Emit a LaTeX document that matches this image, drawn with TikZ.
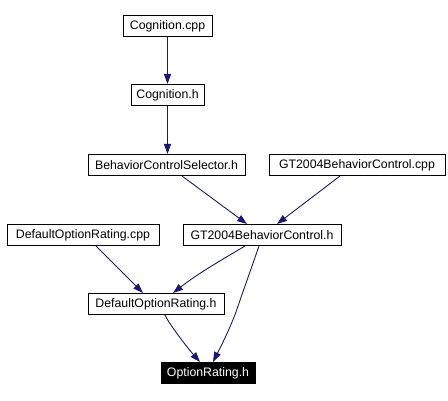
\documentclass[tikz,border=0pt]{standalone}
\usepackage{fontspec}
\setmainfont{Liberation Sans}
\usetikzlibrary{arrows.meta}
\definecolor{edgeblue}{HTML}{191970}
\tikzset{
  filebox/.style={draw=black, line width=1pt, fill=white, inner sep=0pt, minimum height=21pt, font=\fontsize{12.3}{14}\selectfont, anchor=center},
  hilite/.style={filebox, fill=black, text=white},
  dep/.style={draw=edgeblue, line width=0.9pt, -{Triangle[length=10pt,width=7pt]}, fill=none}
}
\begin{document}
\begin{tikzpicture}[x=1pt,y=-1pt]
\useasboundingbox (0,0) rectangle (448,401);
\node[filebox, minimum width=89pt] (cogcpp) at (167.5,26.5) {Cognition.cpp};
\node[filebox, minimum width=73pt] (cogh) at (167.5,95) {Cognition.h};
\node[filebox, minimum width=157pt] (bcs) at (166.5,165) {BehaviorControlSelector.h};
\node[filebox, minimum width=176pt] (gtcpp) at (357,165) {GT2004BehaviorControl.cpp};
\node[filebox, minimum width=152pt] (dorcpp) at (83,235) {DefaultOptionRating.cpp};
\node[filebox, minimum width=158pt] (gth) at (262,235) {GT2004BehaviorControl.h};
\node[filebox, minimum width=136pt] (dorh) at (156,304) {DefaultOptionRating.h};
\node[hilite, minimum width=94pt] (orh) at (208,373) {OptionRating.h};

\draw[dep, line width=1.1pt] (cogcpp.south) -- (cogh.north);
\draw[dep, line width=1.1pt] (cogh.south) -- (cogh.south |- bcs.north);
\draw[dep] ([xshift=15.5pt]bcs.south) -- ([xshift=-15pt]gth.north);
\draw[dep] ([xshift=-17pt]gtcpp.south) -- ([xshift=15pt]gth.north);
\draw[dep] ([xshift=13pt]dorcpp.south) -- ([xshift=-13pt]dorh.north);
\draw[dep] ([xshift=-17pt]gth.south) .. controls (225,258) and (200,272) .. ([xshift=17pt]dorh.north);
\draw[dep] ([xshift=-3pt]gth.south) .. controls (250,272) and (240,300) .. (236,312) .. controls (228,333) and (220,348) .. ([xshift=5pt]orh.north);
\draw[dep] ([xshift=9pt]dorh.south) .. controls (168,322) and (185,345) .. ([xshift=-8pt]orh.north);
\end{tikzpicture}
\end{document}
